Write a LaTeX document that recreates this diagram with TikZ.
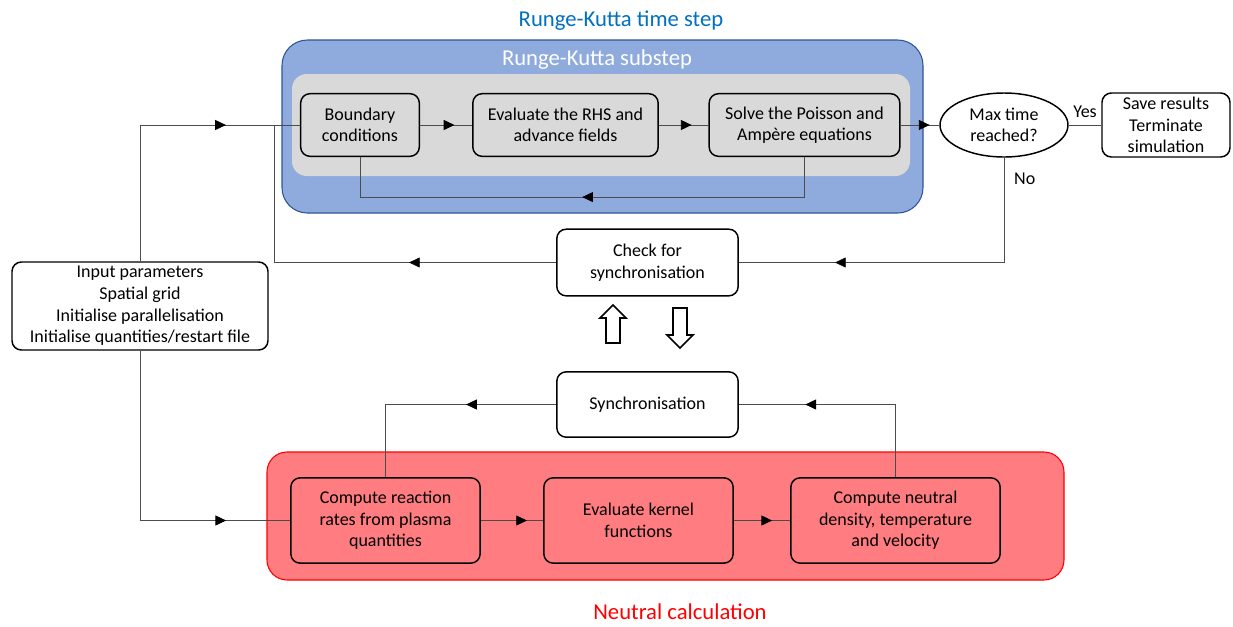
\documentclass[tikz,border=0pt]{standalone}
\usepackage{fontspec}
\setmainfont{Carlito}
\usetikzlibrary{shapes.geometric,arrows.meta,decorations.markings}
\definecolor{rkblue}{RGB}{0,112,192}
\definecolor{rkfill}{RGB}{143,170,220}
\definecolor{rkedge}{RGB}{47,85,151}
\definecolor{rkgray}{RGB}{217,217,217}
\definecolor{ncfill}{RGB}{255,124,128}
\definecolor{ncred}{RGB}{255,0,0}
\tikzset{
    box/.style={draw, line width=1.1pt, rounded corners=7pt, align=center, inner sep=1pt,
        font=\fontsize{13.5}{16.2}\selectfont},
    link/.style={draw=black!70, line width=0.6pt},
    arrowat/.style={postaction={decorate}, decoration={markings,
        mark=at position #1 with {\arrow[black]{Triangle[length=8pt,width=7.5pt]}}}},
    hollow/.style={draw, line width=1.3pt, fill=white, line join=miter},
    title/.style={font=\fontsize{17}{19}\selectfont},
}
\begin{document}
\begin{tikzpicture}[x=0.75pt,y=-0.75pt]
    \useasboundingbox (0,0) rectangle (1233,626);
    % Backgrounds
    \draw[rkedge, fill=rkfill, line width=0.8pt, rounded corners=19pt] (282,40) rectangle (923,213);
    \fill[rkgray, rounded corners=11pt] (292,74) rectangle (910,176);
    \draw[ncred, fill=ncfill, line width=0.8pt, rounded corners=15pt] (267,452) rectangle (1064,580);
    \node[title, text=rkblue] (TitleRK) at (621,21) {Runge-Kutta time step};
    \node[title, text=white] (TitleSub) at (597,60) {Runge-Kutta substep};
    \node[title, text=ncred] (TitleNC) at (680,612) {Neutral calculation};
    % Runge-Kutta substep
    \node[box, fill=rkgray, minimum width=89pt, minimum height=47pt] (Boundary) at (360,125) {Boundary\\conditions};
    \node[box, fill=rkgray, minimum width=139pt, minimum height=47pt] (RHS) at (565.5,125) {Evaluate the RHS and\\advance fields};
    \node[box, fill=rkgray, minimum width=143pt, minimum height=47pt] (Poisson) at (804.5,125) {Solve the Poisson and\\Amp\`ere equations};
    % Time loop
    \node[box, ellipse, rounded corners=0pt, fill=white, minimum width=96pt, minimum height=48pt, inner sep=0pt] (MaxTime) at (1004,125) {Max time\\reached?};
    \node[box, fill=white, minimum width=96pt, minimum height=48pt] (Save) at (1166,125) {Save results\\Terminate\\simulation};
    \node[box, fill=white, minimum width=136pt, minimum height=50pt] (Check) at (647.5,262.5) {Check for\\synchronisation};
    \node[box, fill=white, minimum width=192pt, minimum height=66pt] (Input) at (140,306) {Input parameters\\Spatial grid\\Initialise parallelisation\\Initialise quantities/restart file};
    \node[box, fill=white, minimum width=136pt, minimum height=49pt] (Sync) at (647.5,404.5) {Synchronisation};
    % Neutral calculation
    \node[box, fill=ncfill, minimum width=142pt, minimum height=64pt] (Rates) at (385.5,520.5) {Compute reaction\\rates from plasma\\quantities};
    \node[box, fill=ncfill, minimum width=142pt, minimum height=64pt] (Kernel) at (638.5,520.5) {Evaluate kernel\\functions};
    \node[box, fill=ncfill, minimum width=157pt, minimum height=64pt] (Neutral) at (895.5,520.5) {Compute neutral\\density, temperature\\and velocity};
    \coordinate (Join) at (274,125);
    % Arrows
    \foreach \a/\b/\p in {Boundary/RHS/0.66, RHS/Poisson/0.66, Rates/Kernel/0.74, Kernel/Neutral/0.68} {
        \draw[link, arrowat=\p] (\a) -- (\b);
    }
    \draw[link, arrowat=0.75] (Poisson) -- (MaxTime);
    \draw[link] (MaxTime) -- node[above, yshift=2pt, font=\fontsize{13.5}{16}\selectfont] {Yes} (Save);
    \draw[link, arrowat=0.74] (MaxTime.south) |- node[pos=0.1, right, xshift=4pt, font=\fontsize{13.5}{16}\selectfont] {No} (Check.east);
    \draw[link, arrowat=0.33] (Check.west) -| (Join) -- (Boundary.west);
    \draw[link, arrowat=0.75] (Input.north) |- (Boundary.west);
    \draw[link, arrowat=0.5] (Poisson.south) -- ++(0,40) -| (Boundary.south);
    \draw[link, arrowat=0.80] (Input.south) |- (Rates.west);
    \draw[link, arrowat=0.37] (Sync.west) -| (Rates.north);
    \draw[link, arrowat=0.71] (Neutral.north) |- (Sync.east);
    % Exchange
    \draw[hollow] (613,305) -- ++(13,13) -- ++(-6,0) -- ++(0,25) -- ++(-14,0) -- ++(0,-25) -- ++(-6,0) -- cycle;
    \draw[hollow] (680,348) -- ++(13,-13) -- ++(-6,0) -- ++(0,-27) -- ++(-14,0) -- ++(0,27) -- ++(-6,0) -- cycle;
\end{tikzpicture}
\end{document}
